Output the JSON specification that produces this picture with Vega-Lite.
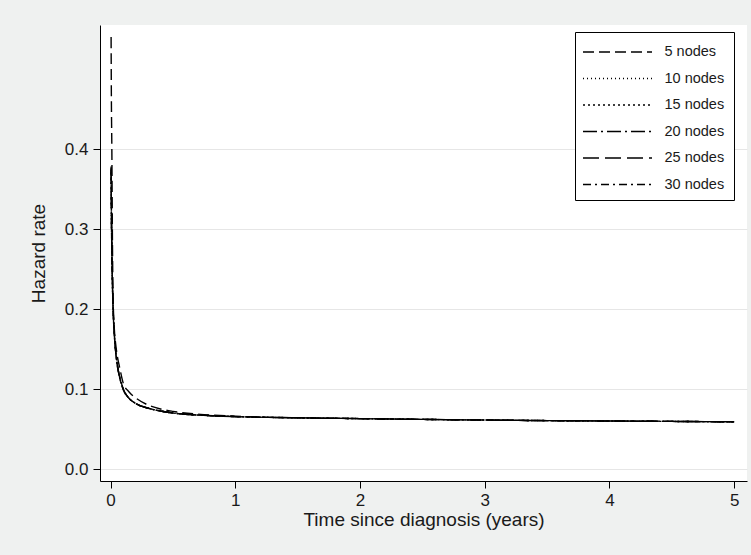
{
  "$schema": "https://vega.github.io/schema/vega-lite/v6.json",
  "width": 647,
  "height": 456,
  "autosize": {"type": "none"},
  "padding": {"left": 100, "top": 25, "right": 4, "bottom": 74},
  "background": "#eff1f0",
  "config": {
    "font": "Liberation Sans",
    "view": {"stroke": null, "fill": "white"},
    "axis": {"labelColor": "#1a1a1a", "titleColor": "#1a1a1a", "domainColor": "black", "tickColor": "black", "titleFontWeight": "normal"}
  },
  "datasets": {
    "curves": [
      {"t": 0.004, "h": 0.54, "n": "5 nodes"},
      {"t": 0.006, "h": 0.47, "n": "5 nodes"},
      {"t": 0.01, "h": 0.40, "n": "5 nodes"},
      {"t": 0.015, "h": 0.28, "n": "5 nodes"},
      {"t": 0.02, "h": 0.215, "n": "5 nodes"},
      {"t": 0.03, "h": 0.175, "n": "5 nodes"},
      {"t": 0.04, "h": 0.157, "n": "5 nodes"},
      {"t": 0.05, "h": 0.145, "n": "5 nodes"},
      {"t": 0.075, "h": 0.125, "n": "5 nodes"},
      {"t": 0.1, "h": 0.108, "n": "5 nodes"},
      {"t": 0.15, "h": 0.096, "n": "5 nodes"},
      {"t": 0.2, "h": 0.089, "n": "5 nodes"},
      {"t": 0.3, "h": 0.080, "n": "5 nodes"},
      {"t": 0.4, "h": 0.075, "n": "5 nodes"},
      {"t": 0.5, "h": 0.072, "n": "5 nodes"},
      {"t": 0.75, "h": 0.068, "n": "5 nodes"},
      {"t": 1, "h": 0.066, "n": "5 nodes"},
      {"t": 1.5, "h": 0.064, "n": "5 nodes"},
      {"t": 2, "h": 0.063, "n": "5 nodes"},
      {"t": 2.5, "h": 0.062, "n": "5 nodes"},
      {"t": 3, "h": 0.0612, "n": "5 nodes"},
      {"t": 3.5, "h": 0.0605, "n": "5 nodes"},
      {"t": 4, "h": 0.060, "n": "5 nodes"},
      {"t": 4.5, "h": 0.0595, "n": "5 nodes"},
      {"t": 5, "h": 0.059, "n": "5 nodes"},

      {"t": 0.004, "h": 0.368, "n": "10 nodes"},
      {"t": 0.006, "h": 0.325, "n": "10 nodes"},
      {"t": 0.01, "h": 0.268, "n": "10 nodes"},
      {"t": 0.015, "h": 0.228, "n": "10 nodes"},
      {"t": 0.02, "h": 0.199, "n": "10 nodes"},
      {"t": 0.03, "h": 0.167, "n": "10 nodes"},
      {"t": 0.04, "h": 0.147, "n": "10 nodes"},
      {"t": 0.05, "h": 0.133, "n": "10 nodes"},
      {"t": 0.075, "h": 0.113, "n": "10 nodes"},
      {"t": 0.1, "h": 0.100, "n": "10 nodes"},
      {"t": 0.15, "h": 0.088, "n": "10 nodes"},
      {"t": 0.2, "h": 0.082, "n": "10 nodes"},
      {"t": 0.3, "h": 0.076, "n": "10 nodes"},
      {"t": 0.4, "h": 0.0725, "n": "10 nodes"},
      {"t": 0.5, "h": 0.070, "n": "10 nodes"},
      {"t": 0.75, "h": 0.067, "n": "10 nodes"},
      {"t": 1, "h": 0.0655, "n": "10 nodes"},
      {"t": 1.5, "h": 0.064, "n": "10 nodes"},
      {"t": 2, "h": 0.063, "n": "10 nodes"},
      {"t": 2.5, "h": 0.062, "n": "10 nodes"},
      {"t": 3, "h": 0.0612, "n": "10 nodes"},
      {"t": 3.5, "h": 0.0605, "n": "10 nodes"},
      {"t": 4, "h": 0.060, "n": "10 nodes"},
      {"t": 4.5, "h": 0.0595, "n": "10 nodes"},
      {"t": 5, "h": 0.059, "n": "10 nodes"},

      {"t": 0.004, "h": 0.371, "n": "15 nodes"},
      {"t": 0.006, "h": 0.327, "n": "15 nodes"},
      {"t": 0.01, "h": 0.269, "n": "15 nodes"},
      {"t": 0.015, "h": 0.229, "n": "15 nodes"},
      {"t": 0.02, "h": 0.200, "n": "15 nodes"},
      {"t": 0.03, "h": 0.168, "n": "15 nodes"},
      {"t": 0.04, "h": 0.148, "n": "15 nodes"},
      {"t": 0.05, "h": 0.134, "n": "15 nodes"},
      {"t": 0.075, "h": 0.113, "n": "15 nodes"},
      {"t": 0.1, "h": 0.100, "n": "15 nodes"},
      {"t": 0.15, "h": 0.088, "n": "15 nodes"},
      {"t": 0.2, "h": 0.082, "n": "15 nodes"},
      {"t": 0.3, "h": 0.076, "n": "15 nodes"},
      {"t": 0.4, "h": 0.0725, "n": "15 nodes"},
      {"t": 0.5, "h": 0.070, "n": "15 nodes"},
      {"t": 0.75, "h": 0.067, "n": "15 nodes"},
      {"t": 1, "h": 0.0655, "n": "15 nodes"},
      {"t": 1.5, "h": 0.064, "n": "15 nodes"},
      {"t": 2, "h": 0.063, "n": "15 nodes"},
      {"t": 2.5, "h": 0.062, "n": "15 nodes"},
      {"t": 3, "h": 0.0612, "n": "15 nodes"},
      {"t": 3.5, "h": 0.0605, "n": "15 nodes"},
      {"t": 4, "h": 0.060, "n": "15 nodes"},
      {"t": 4.5, "h": 0.0595, "n": "15 nodes"},
      {"t": 5, "h": 0.059, "n": "15 nodes"},

      {"t": 0.004, "h": 0.374, "n": "20 nodes"},
      {"t": 0.006, "h": 0.33, "n": "20 nodes"},
      {"t": 0.01, "h": 0.27, "n": "20 nodes"},
      {"t": 0.015, "h": 0.23, "n": "20 nodes"},
      {"t": 0.02, "h": 0.20, "n": "20 nodes"},
      {"t": 0.03, "h": 0.168, "n": "20 nodes"},
      {"t": 0.04, "h": 0.148, "n": "20 nodes"},
      {"t": 0.05, "h": 0.134, "n": "20 nodes"},
      {"t": 0.075, "h": 0.113, "n": "20 nodes"},
      {"t": 0.1, "h": 0.100, "n": "20 nodes"},
      {"t": 0.15, "h": 0.088, "n": "20 nodes"},
      {"t": 0.2, "h": 0.082, "n": "20 nodes"},
      {"t": 0.3, "h": 0.076, "n": "20 nodes"},
      {"t": 0.4, "h": 0.0725, "n": "20 nodes"},
      {"t": 0.5, "h": 0.070, "n": "20 nodes"},
      {"t": 0.75, "h": 0.067, "n": "20 nodes"},
      {"t": 1, "h": 0.0655, "n": "20 nodes"},
      {"t": 1.5, "h": 0.064, "n": "20 nodes"},
      {"t": 2, "h": 0.063, "n": "20 nodes"},
      {"t": 2.5, "h": 0.062, "n": "20 nodes"},
      {"t": 3, "h": 0.0612, "n": "20 nodes"},
      {"t": 3.5, "h": 0.0605, "n": "20 nodes"},
      {"t": 4, "h": 0.060, "n": "20 nodes"},
      {"t": 4.5, "h": 0.0595, "n": "20 nodes"},
      {"t": 5, "h": 0.059, "n": "20 nodes"},

      {"t": 0.004, "h": 0.376, "n": "25 nodes"},
      {"t": 0.006, "h": 0.332, "n": "25 nodes"},
      {"t": 0.01, "h": 0.271, "n": "25 nodes"},
      {"t": 0.015, "h": 0.231, "n": "25 nodes"},
      {"t": 0.02, "h": 0.201, "n": "25 nodes"},
      {"t": 0.03, "h": 0.169, "n": "25 nodes"},
      {"t": 0.04, "h": 0.148, "n": "25 nodes"},
      {"t": 0.05, "h": 0.134, "n": "25 nodes"},
      {"t": 0.075, "h": 0.113, "n": "25 nodes"},
      {"t": 0.1, "h": 0.100, "n": "25 nodes"},
      {"t": 0.15, "h": 0.088, "n": "25 nodes"},
      {"t": 0.2, "h": 0.082, "n": "25 nodes"},
      {"t": 0.3, "h": 0.076, "n": "25 nodes"},
      {"t": 0.4, "h": 0.0725, "n": "25 nodes"},
      {"t": 0.5, "h": 0.070, "n": "25 nodes"},
      {"t": 0.75, "h": 0.067, "n": "25 nodes"},
      {"t": 1, "h": 0.0655, "n": "25 nodes"},
      {"t": 1.5, "h": 0.064, "n": "25 nodes"},
      {"t": 2, "h": 0.063, "n": "25 nodes"},
      {"t": 2.5, "h": 0.062, "n": "25 nodes"},
      {"t": 3, "h": 0.0612, "n": "25 nodes"},
      {"t": 3.5, "h": 0.0605, "n": "25 nodes"},
      {"t": 4, "h": 0.060, "n": "25 nodes"},
      {"t": 4.5, "h": 0.0595, "n": "25 nodes"},
      {"t": 5, "h": 0.059, "n": "25 nodes"},

      {"t": 0.004, "h": 0.378, "n": "30 nodes"},
      {"t": 0.006, "h": 0.334, "n": "30 nodes"},
      {"t": 0.01, "h": 0.272, "n": "30 nodes"},
      {"t": 0.015, "h": 0.232, "n": "30 nodes"},
      {"t": 0.02, "h": 0.202, "n": "30 nodes"},
      {"t": 0.03, "h": 0.169, "n": "30 nodes"},
      {"t": 0.04, "h": 0.149, "n": "30 nodes"},
      {"t": 0.05, "h": 0.135, "n": "30 nodes"},
      {"t": 0.075, "h": 0.114, "n": "30 nodes"},
      {"t": 0.1, "h": 0.101, "n": "30 nodes"},
      {"t": 0.15, "h": 0.088, "n": "30 nodes"},
      {"t": 0.2, "h": 0.082, "n": "30 nodes"},
      {"t": 0.3, "h": 0.076, "n": "30 nodes"},
      {"t": 0.4, "h": 0.0725, "n": "30 nodes"},
      {"t": 0.5, "h": 0.070, "n": "30 nodes"},
      {"t": 0.75, "h": 0.067, "n": "30 nodes"},
      {"t": 1, "h": 0.0655, "n": "30 nodes"},
      {"t": 1.5, "h": 0.064, "n": "30 nodes"},
      {"t": 2, "h": 0.063, "n": "30 nodes"},
      {"t": 2.5, "h": 0.062, "n": "30 nodes"},
      {"t": 3, "h": 0.0612, "n": "30 nodes"},
      {"t": 3.5, "h": 0.0605, "n": "30 nodes"},
      {"t": 4, "h": 0.060, "n": "30 nodes"},
      {"t": 4.5, "h": 0.0595, "n": "30 nodes"},
      {"t": 5, "h": 0.059, "n": "30 nodes"}
    ]
  },
  "data": {"name": "curves"},
  "mark": {"type": "line", "color": "black", "strokeWidth": 1.4, "interpolate": "monotone"},
  "encoding": {
    "x": {
      "field": "t", "type": "quantitative",
      "scale": {"domain": [-0.085, 5.103], "nice": false, "zero": false},
      "axis": {"title": "Time since diagnosis (years)", "values": [0, 1, 2, 3, 4, 5], "grid": false,
        "labelFontSize": 17, "titleFontSize": 19, "tickSize": 7, "labelPadding": 4, "titlePadding": 2, "labelFlush": false}
    },
    "y": {
      "field": "h", "type": "quantitative",
      "scale": {"domain": [-0.015, 0.555], "nice": false, "zero": false},
      "axis": {"title": "Hazard rate", "values": [0, 0.1, 0.2, 0.3, 0.4], "format": ".1f", "grid": true, "gridColor": "#e6e6e6",
        "labelFontSize": 17, "titleFontSize": 19, "tickSize": 7, "labelPadding": 5, "titlePadding": 16}
    },
    "strokeDash": {
      "field": "n", "type": "nominal",
      "scale": {
        "domain": ["5 nodes", "10 nodes", "15 nodes", "20 nodes", "25 nodes", "30 nodes"],
        "range": [[11, 5], [1, 3], [2, 3], [14, 4, 2, 4], [16, 6], [8, 4, 2, 4]]
      },
      "legend": {
        "title": null, "orient": "none", "legendX": 475, "legendY": 7,
        "symbolType": "M-3.45,0H3.45", "symbolSize": 400, "symbolStrokeWidth": 1.4, "symbolStrokeColor": "black",
        "symbolFillColor": "transparent", "symbolOffset": 22.5,
        "labelFontSize": 14.5, "labelColor": "#1a1a1a", "labelOffset": 36, "labelLimit": 200,
        "padding": 9, "rowPadding": 8.5, "strokeColor": "black", "fillColor": "white", "cornerRadius": 0
      }
    }
  }
}
